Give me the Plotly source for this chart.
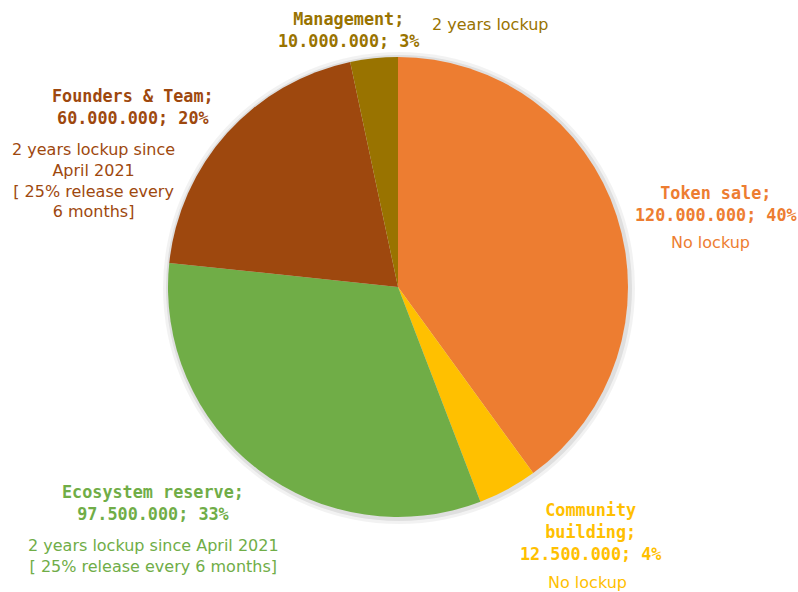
import math
import plotly.graph_objects as go

# Token allocation (total supply 300.000.000)
categories = ["Token sale", "Community<br>building", "Ecosystem reserve", "Founders & Team", "Management"]
amounts = [120_000_000, 12_500_000, 97_500_000, 60_000_000, 10_000_000]
colors = ["#ED7D31", "#FFC000", "#70AD47", "#9E480E", "#997300"]
lockups = [
    "No lockup",
    "No lockup",
    "2 years lockup since April 2021<br>[ 25% release every 6 months]",
    "2 years lockup since<br>April 2021<br>[ 25% release every<br>6 months]",
    "2 years lockup",
]

total = sum(amounts)


def fmt_amount(v):
    return f"{v:,.0f}".replace(",", ".")


def pct_half_up(v):
    return int(math.floor(v / total * 100 + 0.5))


W, H = 798, 592
dom_x = [168 / W, 628 / W]
dom_y = [1 - 517 / H, 1 - 57 / H]

fig = go.Figure()

# soft shadow under the pie
for grow, alpha in [(6, 0.05), (3, 0.08)]:
    fig.add_trace(go.Pie(
        values=[1], labels=["shadow"], sort=False,
        marker=dict(colors=[f"rgba(0,0,0,{alpha})"], line=dict(width=0)),
        domain=dict(x=[(168 - grow + 1) / W, (628 + grow + 1) / W],
                    y=[1 - (517 + grow + 2) / H, 1 - (57 - grow) / H]),
        textinfo="none", hoverinfo="skip", showlegend=False,
    ))

fig.add_trace(go.Pie(
    labels=categories, values=amounts, sort=False, direction="clockwise",
    rotation=0, marker=dict(colors=colors, line=dict(width=0)),
    domain=dict(x=dom_x, y=dom_y), textinfo="none", showlegend=False,
))

# label anchor positions (pixel centres) for the name/value block and lockup note
name_pos = [(716, 204), (590, 532), (153, 503), (133, 107), (348, 30)]
note_pos = [(710, 242), (587, 582), (153, 556), (93, 180), (490, 25)]

mono = "DejaVu Sans Mono"
note_font = "DejaVu Sans"

annotations = []
for name, amt, col, note, (nx, ny), (tx, ty) in zip(categories, amounts, colors, lockups, name_pos, note_pos):
    annotations.append(dict(
        x=nx / W, y=1 - ny / H, xref="paper", yref="paper",
        text=f"<b>{name};<br>{fmt_amount(amt)}; {pct_half_up(amt)}%</b>",
        showarrow=False, align="center", xanchor="center", yanchor="middle",
        font=dict(family=mono, size=16.8, color=col),
    ))
    annotations.append(dict(
        x=tx / W, y=1 - ty / H, xref="paper", yref="paper",
        text=note, showarrow=False, align="center", xanchor="center", yanchor="middle",
        font=dict(family=note_font, size=16, color=col),
    ))

fig.update_layout(
    width=W, height=H, margin=dict(l=0, r=0, t=0, b=0),
    paper_bgcolor="white", plot_bgcolor="white",
    annotations=annotations,
)

fig.write_html("out.html")
